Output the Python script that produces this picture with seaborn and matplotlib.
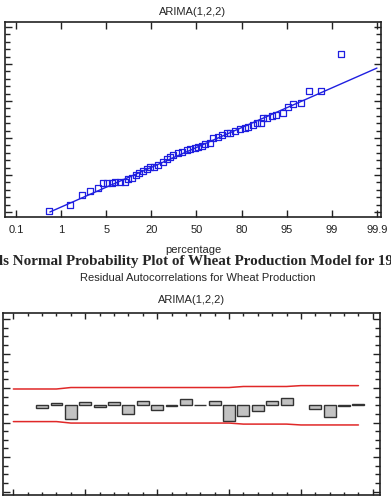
"""
Residual diagnostics for the ARIMA(1,2,2) wheat production model:
normal probability plot on top, residual autocorrelations below.
"""

import matplotlib
matplotlib.use('Agg')
import matplotlib.pyplot as plt
import numpy as np
import pandas as pd
import seaborn as sns
from matplotlib.ticker import FixedLocator, MultipleLocator

# Normal probability plot: x in probability-axis units (0 = 0.1%, 8 = 99.9%)
pct_labels = ['0.1', '1', '5', '20', '50', '80', '95', '99', '99.9']
prob_pos = [0.73, 1.20, 1.46, 1.64, 1.82, 1.93, 2.02, 2.13, 2.19, 2.31,
            2.42, 2.48, 2.57, 2.66, 2.73, 2.81, 2.90, 2.97, 3.06, 3.15,
            3.26, 3.35, 3.41, 3.48, 3.59, 3.68, 3.79, 3.86, 3.97, 4.03,
            4.12, 4.19, 4.30, 4.37, 4.48, 4.57, 4.68, 4.74, 4.85, 4.96,
            5.08, 5.14, 5.25, 5.34, 5.43, 5.47, 5.56, 5.67, 5.76, 5.92,
            6.03, 6.14, 6.32, 6.49, 6.76, 7.20]
resid = [-19.7, -18.1, -15.4, -14.3, -13.5, -12.2, -12.2, -12.2, -11.9, -11.9,
         -11.9, -11.1, -10.8, -10.0, -9.5, -8.9, -8.4, -7.8, -7.8, -7.3,
         -6.5, -5.7, -5.1, -4.6, -4.1, -3.8, -3.2, -3.0, -2.7, -2.4,
         -2.2, -1.6, -1.4, 0.0, 0.3, 0.8, 1.4, 1.4, 1.9, 2.4,
         2.7, 3.0, 3.5, 4.1, 4.1, 5.4, 5.4, 6.0, 6.2, 6.8,
         8.4, 9.2, 9.5, 12.7, 12.7, 22.7]
fit_pos = [0.75, 8.0]
fit_resid = [-20.0, 18.9]

# Residual autocorrelations (lags 1 and 20 show no bar)
lags = list(range(1, 25))
acf = [np.nan, -0.035, 0.027, -0.158, 0.042, -0.020, 0.035, -0.100, 0.054, -0.050,
       -0.005, 0.073, 0.003, 0.054, -0.185, -0.127, -0.070, 0.054, 0.085, np.nan,
       -0.046, -0.139, -0.004, 0.015]
limit_lags = list(range(0, 25))
limits = [0.189, 0.189, 0.189, 0.189, 0.206, 0.206, 0.206, 0.206, 0.206, 0.206,
          0.206, 0.206, 0.206, 0.206, 0.206, 0.206, 0.218, 0.218, 0.218, 0.218,
          0.228, 0.228, 0.228, 0.228, 0.228]

sns.set_style('ticks')
plt.rcParams['font.family'] = ['Liberation Sans', 'DejaVu Sans']
plt.rcParams['axes.edgecolor'] = '#222222'
plt.rcParams['axes.linewidth'] = 1.2
plt.rcParams['xtick.color'] = '#222222'
plt.rcParams['ytick.color'] = '#222222'

fig = plt.figure(figsize=(3.91, 4.99), dpi=100)

# ---- top: normal probability plot ----
ax1 = fig.add_axes([5 / 391, 1 - 217 / 499, 376 / 391, 195 / 499])
npp = pd.DataFrame({'pos': prob_pos, 'resid': resid})
sns.lineplot(x=fit_pos, y=fit_resid, ax=ax1, color='#1f1fe0', linewidth=1.0)
sns.scatterplot(data=npp, x='pos', y='resid', ax=ax1, marker='s', s=20,
                facecolor='none', edgecolor='#1f1fe0', linewidth=0.9, zorder=3)
ax1.set_xlim(-0.244, 8.09)
ax1.set_ylim(-21.35, 31.35)
ax1.xaxis.set_major_locator(FixedLocator(range(len(pct_labels))))
ax1.set_xticklabels(pct_labels, fontsize=8)
ax1.yaxis.set_major_locator(FixedLocator([-20, -10, 0, 10, 20, 30]))
ax1.yaxis.set_minor_locator(MultipleLocator(2))
ax1.tick_params(axis='both', which='both', direction='in', top=True, right=True)
ax1.tick_params(axis='x', which='major', length=5, width=1, pad=6)
ax1.tick_params(axis='y', which='major', length=5, width=1, labelsize=8)
ax1.tick_params(axis='y', which='minor', length=3.5, width=1)
ax1.set_xlabel('percentage', fontsize=8)
ax1.xaxis.set_label_coords(0.5, -0.145)
ax1.set_ylabel('')
ax1.set_title('ARIMA(1,2,2)', fontsize=8, pad=5)

# ---- bottom: residual autocorrelations ----
ax2 = fig.add_axes([3 / 391, 4 / 499, 377 / 391, 182 / 499])
acf_df = pd.DataFrame({'lag': lags, 'acf': acf}).dropna()
sns.barplot(data=acf_df, x='lag', y='acf', ax=ax2, native_scale=True, orient='x',
            color='#c2c2c2', saturation=1, width=0.83, edgecolor='#333333',
            linewidth=1.0, errorbar=None)
sns.lineplot(x=limit_lags, y=limits, ax=ax2, color='#e02828', linewidth=1.1)
sns.lineplot(x=limit_lags, y=[-v for v in limits], ax=ax2, color='#e02828', linewidth=1.1)
ax2.set_xlim(-0.72, 25.5)
ax2.set_ylim(-1.04, 1.07)
ax2.xaxis.set_major_locator(MultipleLocator(5))
ax2.xaxis.set_minor_locator(MultipleLocator(1))
ax2.yaxis.set_major_locator(FixedLocator([-1, -0.6, -0.2, 0.2, 0.6, 1.0]))
ax2.yaxis.set_minor_locator(MultipleLocator(0.1))
ax2.tick_params(axis='both', which='both', direction='in', top=True, right=True)
ax2.tick_params(axis='x', which='major', length=4, width=1, labelsize=8)
ax2.tick_params(axis='x', which='minor', length=2, width=1)
ax2.tick_params(axis='y', which='major', length=5, width=1, labelsize=8)
ax2.tick_params(axis='y', which='minor', length=3.5, width=1)
ax2.set_xlabel('')
ax2.set_ylabel('')
ax2.set_title('ARIMA(1,2,2)', fontsize=8, pad=7)

fig.text(0.505, 1 - 278 / 499, 'Residual Autocorrelations for Wheat Production',
         ha='center', va='center', fontsize=8)

# big serif heading, cropped on both sides in the original
big = fig.text(0.5, 1 - 261 / 499,
               'ls Normal Probability Plot of Wheat Production Model for 19',
               ha='center', va='center', fontsize=12, fontweight='bold',
               family=['Liberation Serif', 'DejaVu Serif'])
fig.canvas.draw()
w = big.get_window_extent().width
big.set_fontsize(12 * 392 / w)

fig.savefig('out.png', dpi=100)
print('Finished!')
